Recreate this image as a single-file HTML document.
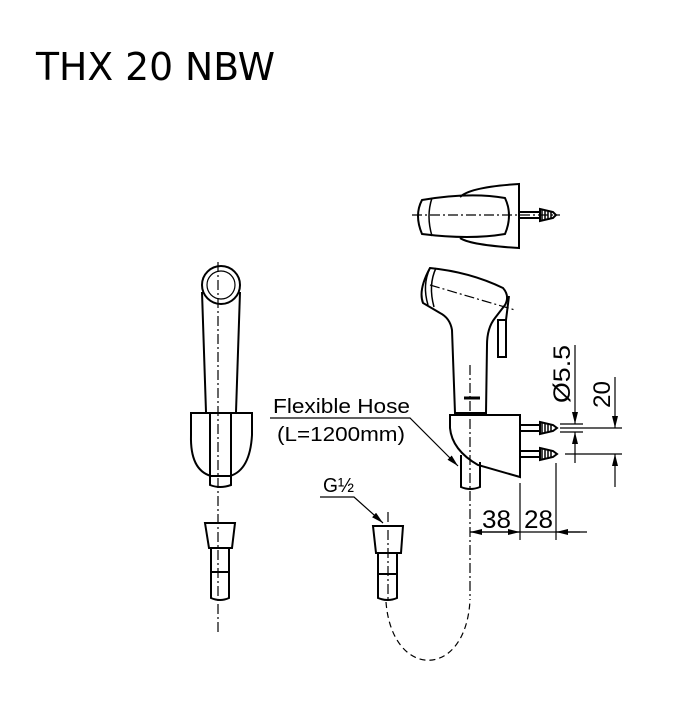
<!DOCTYPE html>
<html><head><meta charset="utf-8"><style>
html,body{margin:0;padding:0;background:#fff;}
svg{display:block;}
text{font-family:"DejaVu Sans","Liberation Sans",sans-serif;fill:#000;}
text.l{font-family:"Liberation Sans",sans-serif;}
</style></head><body>
<svg width="700" height="701" viewBox="0 0 700 701" xmlns="http://www.w3.org/2000/svg">
<defs>
<marker id="ar" markerWidth="12" markerHeight="6" refX="12" refY="3" orient="auto" markerUnits="userSpaceOnUse"><path d="M0,0 L12,3 L0,6 z" fill="#000"/></marker>
</defs>
<text x="36" y="80" font-size="38" textLength="239" lengthAdjust="spacingAndGlyphs">THX 20 NBW</text>

<g fill="none" stroke="#000" stroke-width="2">
<circle cx="221" cy="285" r="19"/>
<circle cx="221" cy="285" r="14" stroke-width="1.2"/>
<path d="M202,292 L206,412 M240,292 L236,412"/>
<path d="M191,413 L252,413 L252,435 Q250,470 230,476 L211,476 Q190,470 191,435 Z"/>
<path d="M210,413 L210,485 Q220,489 231,485 L231,413"/>
<path d="M205,523 L235,523 L232,548 L209,548 Z"/>
<path d="M211,548 L211,598 Q220,602 229,598 L229,548 M211,572 L229,572"/>
<path d="M373,526 L403,526 L401,553 L376,553 Z"/>
<path d="M378,553 L378,598 Q388,602 397,598 L397,553 M378,574 L397,574"/>
<path d="M430,268 Q470,272 503,288 Q510,296 505,305 L495,318 Q487,328 487,345 L486,413 L455,413 L452,330 Q450,318 440,313 L423,303 Q418,290 430,268 Z"/>
<path d="M430,268 Q422,285 428,305" stroke-width="1.5"/>
<path d="M436,268 Q428,285 434,307" stroke-width="1.5"/>
<path d="M498,320 L506,320 L506,357 L498,357 Z M506,320 L509,296"/>
<path d="M450,415 L520,415 L520,477 L478,465 Q452,450 450,428 Z"/>
<path d="M461,455 L461,487 Q470,491 480,487 L480,462"/>
<path d="M464,398 L480,398" stroke-width="3"/>
<path d="M422,200 Q414,215 422,234 Q470,240 505,234 Q513,215 505,198 Q470,192 422,200 Z"/>
<path d="M432,198 Q426,216 432,236" stroke-width="1.5"/>
<path d="M460,197 Q470,187 519,184 L519,248 Q470,245 460,238"/>
<path d="M520,212 L540,212 M520,218 L540,218 M540,209 L553,212 L556,215 L553,218 L540,221 Z"/>
<path d="M520,425 L540,425 M520,431 L540,431 M540,422 L553,425 L557,428 L553,431 L540,434 Z"/>
<path d="M520,451 L540,451 M520,457 L540,457 M540,448 L553,451 L557,454 L553,457 L540,460 Z"/>
</g>
<g stroke="#000" stroke-width="1.5">
<path d="M542,210 L542,220 M545,210 L545,220 M548,211 L548,219 M551,211 L551,219"/>
<path d="M542,423 L542,433 M545,423 L545,433 M548,424 L548,432 M551,424 L551,432"/>
<path d="M542,449 L542,459 M545,449 L545,459 M548,450 L548,458 M551,450 L551,458"/>
</g>

<g fill="none" stroke="#000" stroke-width="1.2" stroke-dasharray="10,3,2,3">
<path d="M218,262 L218,632"/>
<path d="M388,512 L388,602"/>
<path d="M470,365 L470,600"/>
<path d="M412,215 L560,215"/>
<path d="M430,285 L515,310"/>
<path d="M386,602 C392,680 466,680 470,600" stroke-dasharray="6,4"/>
</g>

<g fill="none" stroke="#000" stroke-width="1.2">
<path d="M575,345 L575,424" marker-end="url(#ar)"/>
<path d="M575,463 L575,432" marker-end="url(#ar)"/>
<path d="M615,377 L615,428" marker-end="url(#ar)"/>
<path d="M615,487 L615,454" marker-end="url(#ar)"/>
<path d="M560,424 L583,424 M560,432 L583,432 M560,428 L622,428 M565,454 L622,454"/>
<path d="M520,483 L520,540 M556,463 L556,540 M470,532 L587,532"/>
<path d="M495,532 L470,532" marker-end="url(#ar)"/>
<path d="M495,532 L520,532" marker-end="url(#ar)"/>
<path d="M580,532 L556,532" marker-end="url(#ar)"/>
<path d="M270,418 L410,418 L458,466" marker-end="url(#ar)"/>
<path d="M320,497 L354,497 L383,523" marker-end="url(#ar)"/>
</g>

<g>
<text class="l" x="273" y="413" font-size="20" textLength="137" lengthAdjust="spacingAndGlyphs">Flexible Hose</text>
<text class="l" x="277" y="441" font-size="20" textLength="128" lengthAdjust="spacingAndGlyphs">(L=1200mm)</text>
<text class="l" x="323" y="492" font-size="20" textLength="31" lengthAdjust="spacingAndGlyphs">G½</text>
<text class="l" x="482" y="528" font-size="25" textLength="29" lengthAdjust="spacingAndGlyphs">38</text>
<text class="l" x="524" y="528" font-size="25" textLength="29" lengthAdjust="spacingAndGlyphs">28</text>
<text class="l" transform="translate(570,403) rotate(-90)" font-size="24" textLength="58" lengthAdjust="spacingAndGlyphs">Ø5.5</text>
<text class="l" transform="translate(610,408) rotate(-90)" font-size="24" textLength="27" lengthAdjust="spacingAndGlyphs">20</text>
</g>
</svg>
</body></html>
